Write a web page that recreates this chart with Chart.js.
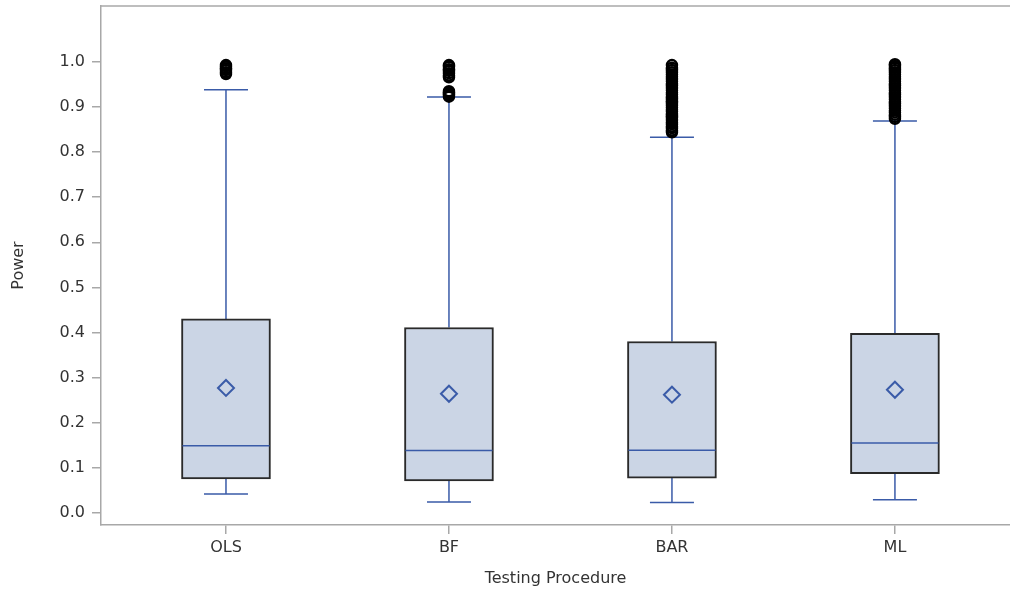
<!DOCTYPE html>
<html>
<head>
    <script src="https://cdn.jsdelivr.net/npm/chart.js"></script>
    <style>
        body { margin: 0; background: #fff; overflow: hidden; }
        #wrap { width: 1010px; height: 592px; }
    </style>
</head>
<body>

    <div id="wrap">
        <canvas id="boxChart"></canvas>
    </div>

    <script>

        const categories = ['OLS', 'BF', 'BAR', 'ML'];
        const whiskerLow = [0.042, 0.024, 0.023, 0.029];
        const q1 = [0.075, 0.071, 0.077, 0.087];
        const medians = [0.149, 0.138, 0.139, 0.155];
        const means = [0.277, 0.264, 0.262, 0.273];
        const q3 = [0.430, 0.411, 0.380, 0.398];
        const whiskerHigh = [0.938, 0.922, 0.833, 0.869];
        const outliersOLS = [0.973, 0.977, 0.982, 0.986, 0.990, 0.993];
        const outliersBF = [0.923, 0.926, 0.929, 0.932, 0.935, 0.966, 0.970, 0.975, 0.980, 0.984, 0.989, 0.993];
        const outliersBAR = [0.844, 0.848, 0.853, 0.857, 0.862, 0.866, 0.871, 0.876, 0.880, 0.885, 0.890, 0.894,
            0.899, 0.904, 0.909, 0.913, 0.918, 0.923, 0.928, 0.932, 0.937, 0.942, 0.947, 0.952, 0.957,
            0.962, 0.967, 0.972, 0.977, 0.982, 0.987, 0.993];
        const outliersML = [0.874, 0.878, 0.883, 0.888, 0.892, 0.897, 0.902, 0.907, 0.912, 0.917, 0.922,
            0.927, 0.932, 0.937, 0.942, 0.947, 0.952, 0.957, 0.962, 0.967, 0.972, 0.977, 0.982,
            0.987, 0.991, 0.995];
        const yTicks = [0, 0.1, 0.2, 0.3, 0.4, 0.5, 0.6, 0.7, 0.8, 0.9, 1.0];

        const blue = '#3a5ba8';
        const axisGrey = '#a8a8a8';
        const fontFamily = '"DejaVu Sans", Arial, sans-serif';

        const outlierSets = [outliersOLS, outliersBF, outliersBAR, outliersML];
        const outlierPoints = [];
        outlierSets.forEach(function (list, i) {
            list.forEach(function (v) { outlierPoints.push({ x: i + 1, y: v }); });
        });

        // whiskers, caps, medians and the top frame line
        const boxParts = {
            id: 'boxParts',
            beforeDatasetsDraw(chart) {
                const ctx = chart.ctx;
                const x = chart.scales.x, y = chart.scales.y;
                ctx.save();
                ctx.strokeStyle = blue;
                ctx.lineWidth = 1.5;
                categories.forEach(function (c, i) {
                    const px = x.getPixelForValue(i + 1);
                    const half = 22;
                    const yHigh = y.getPixelForValue(whiskerHigh[i]);
                    const yLow = y.getPixelForValue(whiskerLow[i]);
                    ctx.beginPath();
                    ctx.moveTo(px, y.getPixelForValue(q3[i]));
                    ctx.lineTo(px, yHigh);
                    ctx.moveTo(px, y.getPixelForValue(q1[i]));
                    ctx.lineTo(px, yLow);
                    ctx.moveTo(px - half, yHigh);
                    ctx.lineTo(px + half, yHigh);
                    ctx.moveTo(px - half, yLow);
                    ctx.lineTo(px + half, yLow);
                    ctx.stroke();
                });
                ctx.restore();
            },
            afterDatasetDraw(chart, args) {
                if (args.index !== 0) return;
                const ctx = chart.ctx;
                const y = chart.scales.y;
                const bars = chart.getDatasetMeta(0).data;
                ctx.save();
                ctx.strokeStyle = blue;
                ctx.lineWidth = 1.5;
                bars.forEach(function (bar, i) {
                    const py = y.getPixelForValue(medians[i]);
                    const w = bar.width / 2 - 1;
                    ctx.beginPath();
                    ctx.moveTo(bar.x - w, py);
                    ctx.lineTo(bar.x + w, py);
                    ctx.stroke();
                });
                ctx.restore();
            },
            afterDraw(chart) {
                const ctx = chart.ctx;
                const a = chart.chartArea;
                ctx.save();
                ctx.strokeStyle = axisGrey;
                ctx.lineWidth = 1.5;
                ctx.beginPath();
                ctx.moveTo(a.left, a.top);
                ctx.lineTo(a.right, a.top);
                ctx.stroke();
                ctx.restore();
            }
        };

        const data = {
            datasets: [{
                type: 'bar',
                label: 'IQR',
                data: categories.map(function (c, i) { return { x: i + 1, y: [q1[i], q3[i]] }; }),
                backgroundColor: '#cbd5e5',
                borderColor: '#2a2a2a',
                borderWidth: 2,
                borderSkipped: false,
                barThickness: 89,
                order: 3
            }, {
                type: 'scatter',
                label: 'Mean',
                data: categories.map(function (c, i) { return { x: i + 1, y: means[i] }; }),
                pointStyle: 'rectRot',
                pointRadius: 8,
                borderColor: blue,
                borderWidth: 2,
                backgroundColor: 'rgba(0,0,0,0)',
                order: 2
            }, {
                type: 'scatter',
                label: 'Outliers',
                data: outlierPoints,
                pointStyle: 'circle',
                pointRadius: 5,
                borderColor: '#000',
                borderWidth: 2.5,
                backgroundColor: 'rgba(255,255,255,0)',
                order: 1
            }]
        };

        const config = {
            type: 'bar',
            data: data,
            plugins: [boxParts],
            options: {
                responsive: true,
                maintainAspectRatio: false,
                animation: false,
                layout: {
                    autoPadding: false,
                    padding: { top: 6, right: 0, left: 0, bottom: 0 }
                },
                plugins: {
                    legend: { display: false },
                    tooltip: { enabled: false }
                },
                scales: {
                    x: {
                        type: 'linear',
                        offset: false,
                        min: 0.4395,
                        max: 4.516,
                        afterBuildTicks: function (scale) {
                            scale.ticks = categories.map(function (c, i) { return { value: i + 1 }; });
                        },
                        afterFit: function (scale) {
                            scale.height = 67;
                            scale.paddingLeft = 0;
                            scale.paddingRight = 0;
                        },
                        ticks: {
                            callback: function (value) { return categories[value - 1]; },
                            color: '#333',
                            font: { family: fontFamily, size: 16 },
                            padding: 4,
                            maxRotation: 0
                        },
                        grid: {
                            offset: false,
                            drawOnChartArea: false,
                            drawTicks: true,
                            tickLength: 9,
                            color: axisGrey,
                            lineWidth: 1.5
                        },
                        border: { color: axisGrey, width: 1.5 },
                        title: {
                            display: true,
                            text: 'Testing Procedure',
                            color: '#333',
                            font: { family: fontFamily, size: 16 },
                            padding: { top: 0, bottom: 4 }
                        }
                    },
                    y: {
                        min: -0.027,
                        max: 1.124,
                        afterBuildTicks: function (scale) {
                            scale.ticks = yTicks.map(function (v) { return { value: v }; });
                        },
                        afterFit: function (scale) {
                            scale.width = 101;
                            scale.paddingTop = 0;
                            scale.paddingBottom = 0;
                        },
                        ticks: {
                            callback: function (value) { return value.toFixed(1); },
                            color: '#333',
                            font: { family: fontFamily, size: 16 },
                            padding: 7
                        },
                        grid: {
                            drawOnChartArea: false,
                            drawTicks: true,
                            tickLength: 9,
                            color: axisGrey,
                            lineWidth: 1.5
                        },
                        border: { color: axisGrey, width: 1.5 },
                        title: {
                            display: true,
                            text: 'Power',
                            color: '#333',
                            font: { family: fontFamily, size: 16 },
                            padding: { top: 9, bottom: 0 }
                        }
                    }
                }
            }
        };

        const myChart = new Chart(
            document.getElementById('boxChart'),
            config
        );

    </script>

</body>
</html>
